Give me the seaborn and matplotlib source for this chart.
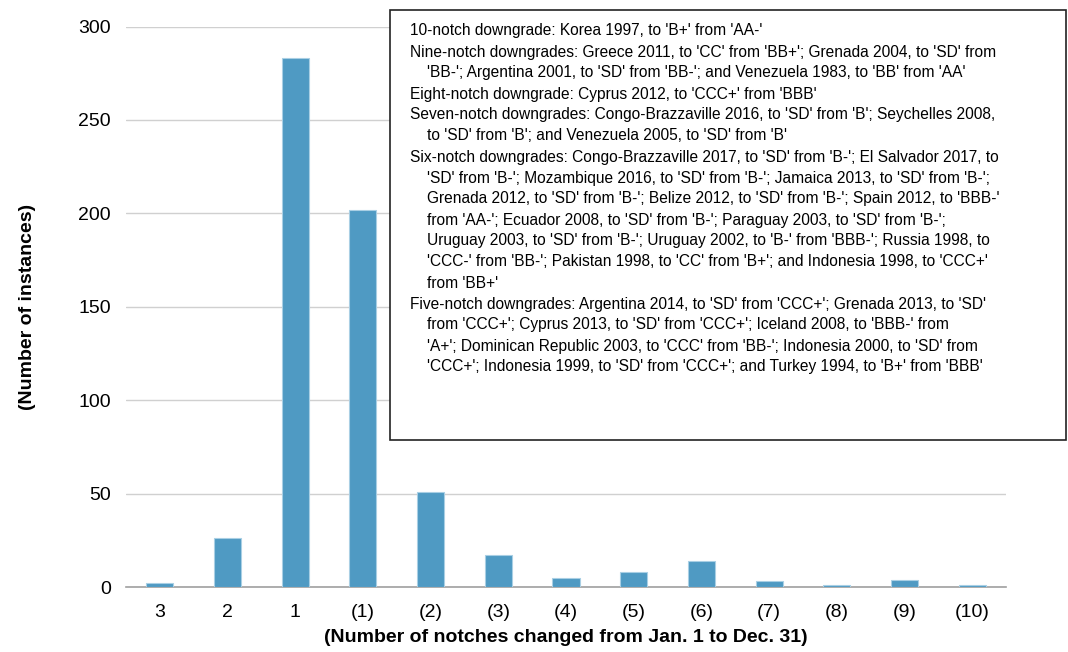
import numpy as np
import pandas as pd
import matplotlib
matplotlib.use("Agg")
import matplotlib.pyplot as plt
import seaborn as sns
from matplotlib.patches import Rectangle

# chart values
notches = ["3", "2", "1", "(1)", "(2)", "(3)", "(4)", "(5)", "(6)", "(7)", "(8)", "(9)", "(10)"]
instances = [2, 26, 283, 202, 51, 17, 5, 8, 14, 3, 1, 4, 1]
y_ticks = [0, 50, 100, 150, 200, 250, 300]

# note box lines: (indented, text)
note_lines = [
    (False, "10-notch downgrade: Korea 1997, to 'B+' from 'AA-'"),
    (False, "Nine-notch downgrades: Greece 2011, to 'CC' from 'BB+'; Grenada 2004, to 'SD' from"),
    (True, "'BB-'; Argentina 2001, to 'SD' from 'BB-'; and Venezuela 1983, to 'BB' from 'AA'"),
    (False, "Eight-notch downgrade: Cyprus 2012, to 'CCC+' from 'BBB'"),
    (False, "Seven-notch downgrades: Congo-Brazzaville 2016, to 'SD' from 'B'; Seychelles 2008,"),
    (True, "to 'SD' from 'B'; and Venezuela 2005, to 'SD' from 'B'"),
    (False, "Six-notch downgrades: Congo-Brazzaville 2017, to 'SD' from 'B-'; El Salvador 2017, to"),
    (True, "'SD' from 'B-'; Mozambique 2016, to 'SD' from 'B-'; Jamaica 2013, to 'SD' from 'B-';"),
    (True, "Grenada 2012, to 'SD' from 'B-'; Belize 2012, to 'SD' from 'B-'; Spain 2012, to 'BBB-'"),
    (True, "from 'AA-'; Ecuador 2008, to 'SD' from 'B-'; Paraguay 2003, to 'SD' from 'B-';"),
    (True, "Uruguay 2003, to 'SD' from 'B-'; Uruguay 2002, to 'B-' from 'BBB-'; Russia 1998, to"),
    (True, "'CCC-' from 'BB-'; Pakistan 1998, to 'CC' from 'B+'; and Indonesia 1998, to 'CCC+'"),
    (True, "from 'BB+'"),
    (False, "Five-notch downgrades: Argentina 2014, to 'SD' from 'CCC+'; Grenada 2013, to 'SD'"),
    (True, "from 'CCC+'; Cyprus 2013, to 'SD' from 'CCC+'; Iceland 2008, to 'BBB-' from"),
    (True, "'A+'; Dominican Republic 2003, to 'CCC' from 'BB-'; Indonesia 2000, to 'SD' from"),
    (True, "'CCC+'; Indonesia 1999, to 'SD' from 'CCC+'; and Turkey 1994, to 'B+' from 'BBB'"),
]

sns.set_style("white")
plt.rcParams['font.family'] = ['Liberation Sans', 'DejaVu Sans']

df = pd.DataFrame({"notch": notches, "count": instances})

W, H = 1068, 652
fig = plt.figure(figsize=(W / 100, H / 100), dpi=100)
ax = fig.add_axes([126 / W, 1 - 587 / H, (1006 - 126) / W, (587 - 26.5) / H])

sns.barplot(data=df, x="notch", y="count", color="#4F9AC3", width=0.4,
            edgecolor="#A9CFE4", linewidth=0.8, saturation=1, ax=ax, zorder=3)

ax.set_ylim(0, 300)
ax.set_xlim(-0.5, len(notches) - 0.5)
ax.set_yticks(y_ticks)
ax.yaxis.grid(True, color="#D0D0D0", linewidth=1, zorder=0)
ax.set_axisbelow(True)

for s in ["top", "right", "left"]:
    ax.spines[s].set_visible(False)
ax.spines["bottom"].set_color("#A0A0A0")
ax.spines["bottom"].set_linewidth(1.2)

ax.set_xticks(np.arange(-0.5, len(notches), 1.0), minor=True)
ax.tick_params(axis="x", which="major", length=0, pad=12, labelsize=14, colors="black")
ax.tick_params(axis="x", which="minor", length=6, width=1, color="#A0A0A0")
ax.tick_params(axis="y", which="major", length=6, width=1, color="#C8C8C8",
               labelsize=14, pad=5, labelcolor="black")

ax.set_xlabel("(Number of notches changed from Jan. 1 to Dec. 31)",
              fontsize=14, fontweight="bold", labelpad=6, color="black")
ax.set_ylabel("(Number of instances)", fontsize=14, fontweight="bold", labelpad=30,
              color="black")

# note box
box = Rectangle((390 / W, 1 - 440 / H), (1066 - 390) / W, (440 - 10) / H,
                transform=fig.transFigure, facecolor="white", edgecolor="#222222",
                linewidth=1.2, zorder=5)
fig.patches.append(box)

for i, (indent, line) in enumerate(note_lines):
    x = (427 if indent else 410) / W
    y = 1 - (31 + i * 21) / H
    fig.text(x, y, line, fontsize=11.2, va="center", ha="left", color="black",
             family=['Liberation Sans', 'DejaVu Sans'], zorder=6)

fig.savefig("out.png", dpi=100)
